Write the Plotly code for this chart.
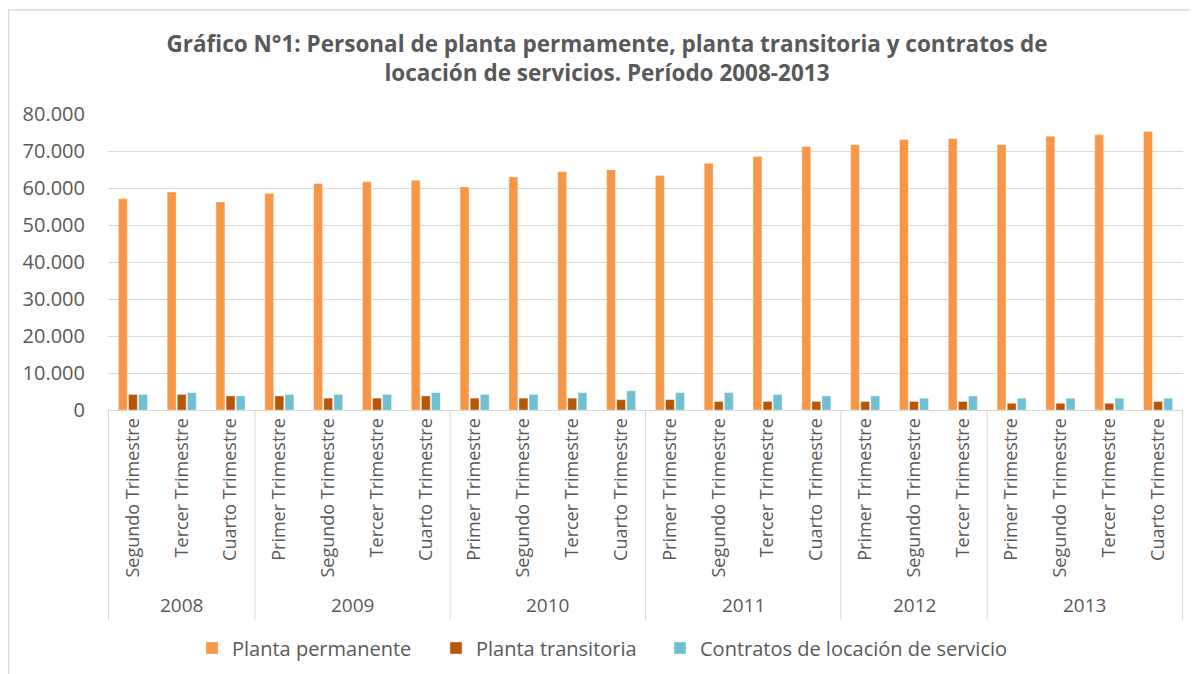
import plotly.graph_objects as go

years = ["2008"] * 3 + ["2009"] * 4 + ["2010"] * 4 + ["2011"] * 4 + ["2012"] * 3 + ["2013"] * 4
quarters = ["Segundo Trimestre", "Tercer Trimestre", "Cuarto Trimestre",
            "Primer Trimestre", "Segundo Trimestre", "Tercer Trimestre", "Cuarto Trimestre",
            "Primer Trimestre", "Segundo Trimestre", "Tercer Trimestre", "Cuarto Trimestre",
            "Primer Trimestre", "Segundo Trimestre", "Tercer Trimestre", "Cuarto Trimestre",
            "Primer Trimestre", "Segundo Trimestre", "Tercer Trimestre",
            "Primer Trimestre", "Segundo Trimestre", "Tercer Trimestre", "Cuarto Trimestre"]

planta_permanente = [57100, 58900, 56200, 58500, 61200, 61700, 62100, 60300, 63000, 64400, 64900,
                     63400, 66700, 68500, 71200, 71700, 73100, 73400, 71700, 74000, 74400, 75300]
planta_transitoria = [4200, 4200, 3800, 3800, 3200, 3200, 3800, 3200, 3200, 3200, 2800,
                      2800, 2300, 2300, 2300, 2300, 2300, 2300, 1800, 1800, 1800, 2300]
contratos = [4200, 4700, 3800, 4200, 4200, 4200, 4700, 4200, 4200, 4700, 5200,
             4700, 4700, 4200, 3800, 3800, 3200, 3800, 3200, 3200, 3200, 3200]

series = [
    ("Planta permanente", planta_permanente, "#F79646"),
    ("Planta transitoria", planta_transitoria, "#B65708"),
    ("Contratos de locación de servicio", contratos, "#70BFD3"),
]

FONT = "Open Sans"
GREY = "#595959"
LINE = "#D9D9D9"

OFF = 8  # default page body margin
W, H = 1198 - OFF, 674 - OFF
ML, MT = 108 - OFF, 114 - OFF
MR = W - (1183 - OFF)
MB = H - (410 - OFF)
PW, PH = W - ML - MR, H - MT - MB


def py(pix):  # page pixel row -> paper y
    return (H - MB - (pix - OFF)) / PH


def px(pix):  # page pixel column -> paper x
    return (pix - OFF - ML) / PW


keys = [f"{y} {q}" for y, q in zip(years, quarters)]
legend_ids = ["legend", "legend2", "legend3"]
legend_text_x = [232, 476, 700]

fig = go.Figure()
for (name, vals, color), lid in zip(series, legend_ids):
    fig.add_trace(go.Bar(
        x=keys, y=vals, name=name, legend=lid, showlegend=True,
        marker=dict(color=color, line=dict(color="rgba(255,255,255,0.6)", width=0.6)),
    ))

# year groups
groups = []
for i, y in enumerate(years):
    if not groups or groups[-1][0] != y:
        groups.append([y, i, i])
    else:
        groups[-1][2] = i

annotations = []
shapes = []
for y, a, b in groups:
    annotations.append(dict(x=(a + b) / 2, xref="x", y=py(605), yref="paper",
                            text=y, showarrow=False, xanchor="center", yanchor="middle",
                            font=dict(family=FONT, size=19, color=GREY)))
    shapes.append(dict(type="line", xref="x", yref="paper", x0=a - 0.5, x1=a - 0.5,
                       y0=0, y1=py(620), line=dict(color=LINE, width=1)))
shapes.append(dict(type="line", xref="x", yref="paper", x0=len(keys) - 0.5, x1=len(keys) - 0.5,
                   y0=0, y1=py(620), line=dict(color=LINE, width=1)))
shapes.append(dict(type="rect", xref="paper", yref="paper",
                   x0=px(8.5), x1=px(1230), y0=py(720), y1=py(10),
                   line=dict(color=LINE, width=1.5), fillcolor="rgba(0,0,0,0)", layer="below"))

legends = {}
for lid, tx in zip(legend_ids, legend_text_x):
    legends[lid] = dict(orientation="h", x=px(tx - 40), xanchor="left", y=py(648), yanchor="middle",
                        font=dict(family=FONT, size=20, color=GREY), bgcolor="rgba(0,0,0,0)")

fig.update_layout(
    width=W, height=H, showlegend=True,
    barmode="group", bargap=0.38, bargroupgap=0.12,
    plot_bgcolor="white", paper_bgcolor="white",
    margin=dict(l=ML, r=MR, t=MT, b=MB, autoexpand=False),
    font=dict(family=FONT, color=GREY, size=14),
    title=dict(
        text="<b>Gráfico N°1: Personal de planta permamente, planta transitoria y contratos de<br>locación de servicios. Período 2008-2013</b>",
        x=px(607), xanchor="center", xref="paper", y=(H - 44) / H, yref="container", yanchor="middle",
        font=dict(family=FONT, size=22.5, color=GREY),
    ),
    xaxis=dict(
        type="category", tickvals=keys, ticktext=quarters, tickangle=-90,
        showline=True, linecolor=LINE, ticks="", automargin=False,
        tickfont=dict(family=FONT, size=18, color=GREY),
    ),
    yaxis=dict(
        range=[0, 80000], dtick=10000, tickformat=",d",
        showgrid=True, gridcolor=LINE, gridwidth=1, zeroline=False,
        tickfont=dict(family=FONT, size=20, color=GREY), ticks="outside",
        ticklen=18, tickcolor="rgba(0,0,0,0)", automargin=False,
    ),
    separators=",.",
    annotations=annotations,
    shapes=shapes,
    **legends,
)

fig.write_html("out.html")
